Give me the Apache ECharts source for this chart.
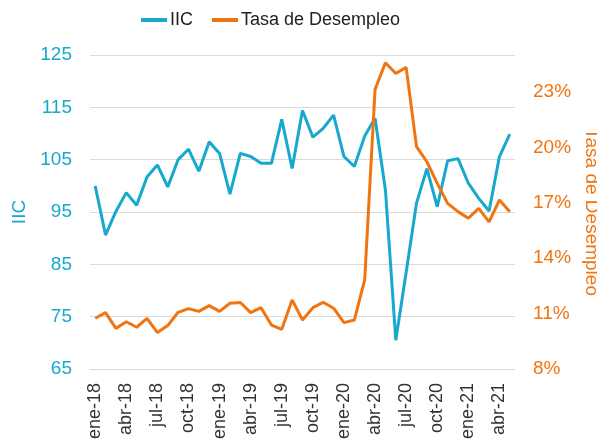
<!DOCTYPE html>
<html><head><meta charset="utf-8">
<script src="https://cdn.jsdelivr.net/npm/echarts@6/dist/echarts.min.js"></script>
<style>html,body{margin:0;padding:0;background:#fff}#c{width:597px;height:444px}</style>
</head><body><div id="c"></div>
<script>
const months = ['ene','feb','mar','abr','may','jun','jul','ago','sep','oct','nov','dic'];
const categories = [];
for (let y = 18; y <= 21; y++) for (let m = 0; m < 12; m++) { if (y === 21 && m > 4) break; categories.push(months[m] + '-' + y); }
const iic = [100.0,90.6,95.1,98.7,96.3,101.7,104.0,99.8,105.0,107.0,102.8,108.4,
  106.2,98.4,106.2,105.6,104.3,104.3,112.7,103.3,114.4,109.3,111.0,113.5,
  105.6,103.7,109.5,112.9,99.2,70.5,83.5,96.7,103.3,96.0,104.8,105.2,
  100.5,97.6,95.2,105.6,109.9];
const desempleo = [10.75,11.05,10.2,10.56,10.26,10.74,9.97,10.35,11.07,11.27,11.12,11.43,
  11.12,11.56,11.6,11.05,11.32,10.38,10.15,11.74,10.65,11.32,11.61,11.29,
  10.51,10.65,12.82,23.14,24.58,24.0,24.33,20.04,19.22,18.05,16.97,16.52,
  16.16,16.7,15.97,17.15,16.52];
const cyan = '#17A8CE', orange = '#F07410';
const chart = echarts.init(document.getElementById('c'));
chart.setOption({
  animation: false,
  textStyle: { fontFamily: 'Liberation Sans, Arial, sans-serif' },
  legend: {
    top: 11, left: 141, padding: 0, itemGap: 19, itemWidth: 26, itemHeight: 4, icon: 'rect',
    textStyle: { fontSize: 18, color: '#222', padding: [0,0,0,-2] },
    data: ['IIC', 'Tasa de Desempleo']
  },
  grid: { left: 90, right: 82, top: 55, bottom: 75, containLabel: false, outerBoundsMode: 'none' },
  xAxis: {
    type: 'category', data: categories, boundaryGap: true,
    axisLine: { show: false }, axisTick: { show: false },
    axisLabel: { interval: 2, rotate: 90, fontSize: 18, color: '#333', margin: 14 }
  },
  yAxis: [
    { type: 'value', min: 65, max: 125, interval: 10,
      name: 'IIC', nameLocation: 'middle', nameGap: 58, nameRotate: 90,
      nameTextStyle: { color: cyan, fontSize: 19 },
      axisLine: { show: false }, axisTick: { show: false },
      axisLabel: { color: cyan, fontSize: 19, margin: 18 },
      splitLine: { lineStyle: { color: '#D9D9D9', width: 1 } } },
    { type: 'value', min: 8, max: 25, interval: 3, position: 'right',
      name: 'Tasa de Desempleo', nameLocation: 'middle', nameGap: 63, nameRotate: -90,
      nameTextStyle: { color: orange, fontSize: 19 },
      axisLine: { show: false }, axisTick: { show: false },
      axisLabel: { color: orange, fontSize: 19, margin: 18, showMaxLabel: false, formatter: '{value}%' },
      splitLine: { show: false } }
  ],
  series: [
    { name: 'IIC', type: 'line', data: iic, yAxisIndex: 0, symbol: 'none',
      lineStyle: { color: cyan, width: 3 }, itemStyle: { color: cyan } },
    { name: 'Tasa de Desempleo', type: 'line', data: desempleo, yAxisIndex: 1, symbol: 'none',
      lineStyle: { color: orange, width: 3 }, itemStyle: { color: orange } }
  ]
});
</script></body></html>
